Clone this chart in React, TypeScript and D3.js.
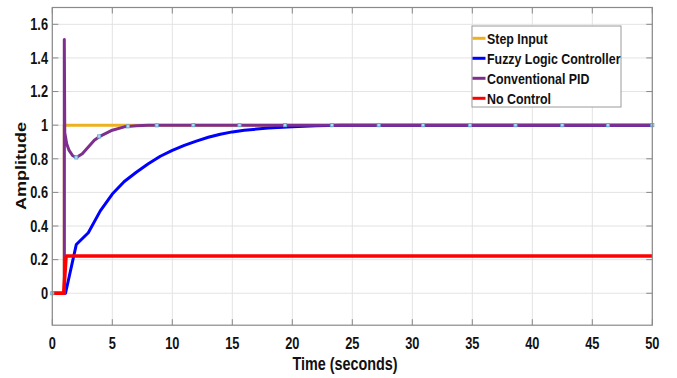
import React from "react";
import * as d3 from "d3";

// time in seconds / amplitude
const stepT = [0, 1, 1, 50];
const stepV = [0, 0, 1, 1];

const fuzzyT = [0, 1.1, 2, 3, 4, 5, 6, 7, 8, 9, 10, 11, 12, 13, 14, 15, 16, 18, 20, 22, 24, 27, 30, 35, 40, 50];
const fuzzyV = [0, 0, 0.29, 0.36, 0.49, 0.59, 0.665, 0.72, 0.77, 0.815, 0.85, 0.88, 0.905, 0.928, 0.946, 0.96, 0.97, 0.983, 0.991, 0.996, 0.999, 1, 1, 1, 1, 1];

const pidT = [0, 1, 1, 1.04, 1.2, 1.4, 1.7, 2.0, 2.5, 3, 3.5, 4, 5, 6, 7, 8, 10, 50];
const pidV = [0, 0, 1.51, 0.955, 0.89, 0.85, 0.818, 0.808, 0.83, 0.87, 0.91, 0.935, 0.97, 0.99, 0.996, 0.999, 1, 1];

const noCtrlT = [0, 0.95, 1.15, 50];
const noCtrlV = [0, 0, 0.222, 0.222];

// solver step markers on the PID trace
const markT = [0, 2.0, 3.9, 6.3, 8.7, 11.75, 15.6, 19.4, 23.3, 27.2, 30.9, 34.8, 38.6, 42.5, 46.3, 50];
const markV = [0, 0.808, 0.933, 0.993, 0.999, 1, 1, 1, 1, 1, 1, 1, 1, 1, 1, 1];

const xTicks = [0, 5, 10, 15, 20, 25, 30, 35, 40, 45, 50];
const yTicks = [0, 0.2, 0.4, 0.6, 0.8, 1, 1.2, 1.4, 1.6];

const series = [
  { name: "Step Input", t: stepT, v: stepV, color: "#EDB120", w: 3 },
  { name: "Fuzzy Logic Controller", t: fuzzyT, v: fuzzyV, color: "#0000FF", w: 3 },
  { name: "Conventional PID", t: pidT, v: pidV, color: "#7E2F8E", w: 3 },
  { name: "No Control", t: noCtrlT, v: noCtrlV, color: "#FF0000", w: 3.5 },
];

const W = 677;
const H = 378;
const left = 52.3;
const right = 652.3;
const top = 7.5;
const bottom = 325.2;

// the figure is squeezed horizontally, so text is drawn narrow
const font = "'Liberation Sans', Arial, sans-serif";
const SQ = 0.8;

const NText = ({ x, y, anchor = "start", size, children }: any) => (
  <text
    transform={`translate(${x},${y}) scale(${SQ},1)`}
    textAnchor={anchor}
    fontFamily={font}
    fontWeight="bold"
    fontSize={size}
    fill="#111"
  >
    {children}
  </text>
);

export default function App() {
  const x = d3.scaleLinear().domain([0, 50]).range([left, right]);
  const y = d3.scaleLinear().domain([-0.19, 1.7]).range([bottom, top]);

  const line = d3
    .line<[number, number]>()
    .x((d) => x(d[0]))
    .y((d) => y(d[1]));

  return (
    <div style={{ position: "fixed", left: 0, top: 0 }}>
      <svg width={W} height={H} style={{ display: "block", background: "#fff" }}>
        {/* grid */}
        <g stroke="#e3e3e3" strokeWidth={1}>
          {xTicks.map((t) => (
            <line key={"gx" + t} x1={x(t)} x2={x(t)} y1={top} y2={bottom} />
          ))}
          {yTicks.map((t) => (
            <line key={"gy" + t} x1={left} x2={right} y1={y(t)} y2={y(t)} />
          ))}
        </g>

        {/* inward ticks */}
        <g stroke="#888" strokeWidth={1}>
          {xTicks.map((t) => (
            <g key={"tx" + t}>
              <line x1={x(t)} x2={x(t)} y1={bottom} y2={bottom - 6} />
              <line x1={x(t)} x2={x(t)} y1={top} y2={top + 6} />
            </g>
          ))}
          {yTicks.map((t) => (
            <g key={"ty" + t}>
              <line x1={left} x2={left + 6} y1={y(t)} y2={y(t)} />
              <line x1={right} x2={right - 6} y1={y(t)} y2={y(t)} />
            </g>
          ))}
        </g>

        {/* curves */}
        {series.map((s) => (
          <path
            key={s.name}
            d={line(s.t.map((t, i) => [t, s.v[i]] as [number, number])) || ""}
            fill="none"
            stroke={s.color}
            strokeWidth={s.w}
            strokeLinejoin="round"
          />
        ))}

        {/* markers */}
        <g fill="#b9d6ec" stroke="#5fa6d6" strokeWidth={0.8}>
          {markT.map((t, i) => (
            <rect key={"m" + i} x={x(t) - 1.6} y={y(markV[i]) - 1.6} width={3.2} height={3.2} />
          ))}
        </g>

        {/* frame */}
        <rect
          x={left}
          y={top}
          width={right - left}
          height={bottom - top}
          fill="none"
          stroke="#8a8a8a"
          strokeWidth={1.2}
        />

        {/* tick labels */}
        {xTicks.map((t) => (
          <NText key={"lx" + t} x={x(t)} y={349} anchor="middle" size={16}>
            {t}
          </NText>
        ))}
        {yTicks.map((t) => (
          <NText key={"ly" + t} x={48} y={y(t) + 5.8} anchor="end" size={16}>
            {d3.format("~g")(t)}
          </NText>
        ))}

        {/* axis titles */}
        <NText x={345} y={370} anchor="middle" size={18}>
          Time (seconds)
        </NText>
        <text
          transform={`translate(26,166) rotate(-90) scale(1,0.8)`}
          textAnchor="middle"
          fontFamily={font}
          fontWeight="bold"
          fontSize={18}
          fill="#111"
        >
          Amplitude
        </text>

        {/* legend */}
        <g>
          <rect x={472} y={26} width={149} height={81} fill="#fff" stroke="#9a9a9a" strokeWidth={1} />
          {series.map((s, i) => (
            <g key={"lg" + s.name} transform={`translate(0,${38.3 + i * 20})`}>
              <line x1={472.5} x2={485.5} y1={0} y2={0} stroke={s.color} strokeWidth={3} />
              <NText x={487} y={5.5} size={15.5}>
                {s.name}
              </NText>
            </g>
          ))}
        </g>
      </svg>
    </div>
  );
}
